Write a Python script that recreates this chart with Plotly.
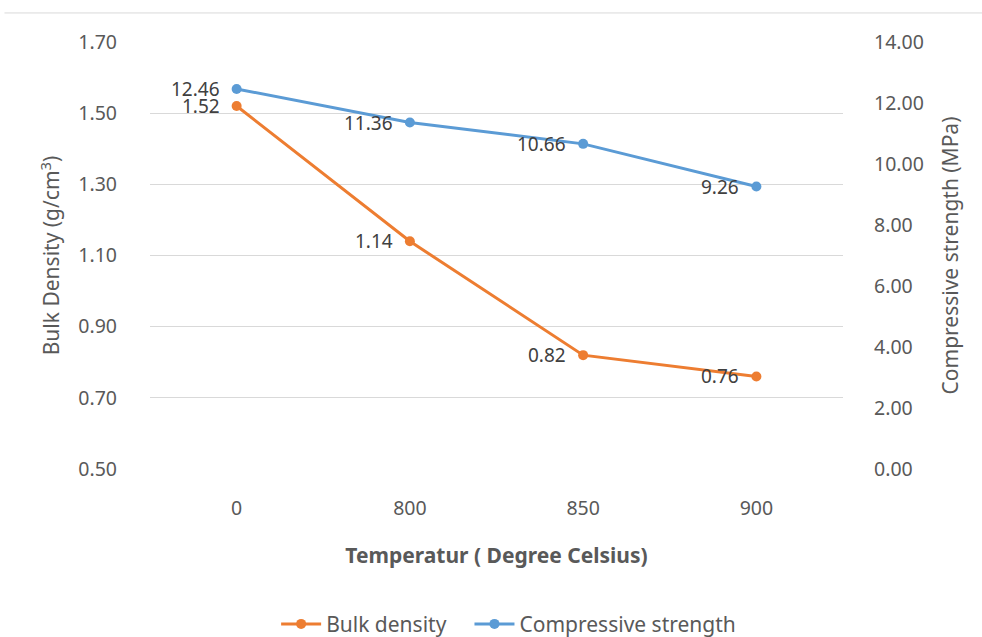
import plotly.graph_objects as go

# Firing temperature categories and measured properties
temperatures = ["0", "800", "850", "900"]
bulk_density = [1.52, 1.14, 0.82, 0.76]             # g/cm3
compressive_strength = [12.46, 11.36, 10.66, 9.26]  # MPa

ORANGE = "#ED7D31"
BLUE = "#5B9BD5"
AXIS_GREY = "#595959"
LABEL_GREY = "#404040"
GRID = "#D9D9D9"
FONT = "Noto Sans"
TICK_SIZE = 19.5

fig = go.Figure()

fig.add_trace(go.Scatter(
    x=temperatures, y=bulk_density, name="Bulk density",
    mode="lines+markers",
    line=dict(color=ORANGE, width=3),
    marker=dict(color=ORANGE, size=10),
    yaxis="y", cliponaxis=False, legend="legend",
))

fig.add_trace(go.Scatter(
    x=temperatures, y=compressive_strength, name="Compressive strength",
    mode="lines+markers",
    line=dict(color=BLUE, width=3),
    marker=dict(color=BLUE, size=10),
    yaxis="y2", cliponaxis=False, legend="legend2",
))

# Value labels sit to the left of each point (x given as category index)
annotations = []
for series, axis in ((bulk_density, "y"), (compressive_strength, "y2")):
    for idx, val in enumerate(series):
        annotations.append(dict(
            x=idx, y=val, xref="x", yref=axis,
            text=f"{val:.2f}", showarrow=False,
            xanchor="right", yanchor="middle", xshift=-15,
            font=dict(family=FONT, size=19, color=LABEL_GREY),
        ))

legend_style = dict(
    orientation="h", xref="paper", xanchor="left",
    yref="container", y=0.02, yanchor="middle",
    font=dict(size=21, color=AXIS_GREY),
    itemwidth=40, bgcolor="rgba(0,0,0,0)",
)

fig.update_layout(
    width=982, height=637,
    showlegend=True,
    margin=dict(l=150, r=139, t=42, b=168, autoexpand=False),
    paper_bgcolor="white", plot_bgcolor="white",
    font=dict(family=FONT, size=16, color=AXIS_GREY),
    xaxis=dict(
        type="category", range=[-0.5, 3.5],
        showgrid=False, showline=False, zeroline=False,
        ticks="outside", ticklen=0, ticklabelstandoff=22,
        tickfont=dict(size=TICK_SIZE, color=AXIS_GREY),
        title=dict(text="<b>Temperatur ( Degree Celsius)</b>",
                   font=dict(size=21, color=AXIS_GREY), standoff=27),
    ),
    yaxis=dict(
        range=[0.5, 1.7], dtick=0.2, tick0=0.5, tickformat=".2f",
        showgrid=True, gridcolor=GRID, gridwidth=1,
        zeroline=False, showline=False,
        ticklabelstandoff=32,
        tickfont=dict(size=TICK_SIZE, color=AXIS_GREY),
        title=dict(text="Bulk Density (g/cm<sup>3</sup>)",
                   font=dict(size=21, color=AXIS_GREY), standoff=12),
    ),
    yaxis2=dict(
        range=[0, 14], dtick=2, tick0=0, tickformat=".2f",
        overlaying="y", side="right",
        showgrid=False, zeroline=False, showline=False,
        ticklabelstandoff=30,
        tickfont=dict(size=TICK_SIZE, color=AXIS_GREY),
        title=dict(text="Compressive strength (MPa)",
                   font=dict(size=21, color=AXIS_GREY), standoff=20),
    ),
    legend=dict(x=0.182, **legend_style),
    legend2=dict(x=0.461, **legend_style),
    annotations=annotations,
    shapes=[dict(
        type="line", xref="paper", yref="paper",
        x0=-0.21, x1=1.21, y0=1.068, y1=1.068,
        line=dict(color=GRID, width=1),
    )],
)

fig.write_html("out.html")
